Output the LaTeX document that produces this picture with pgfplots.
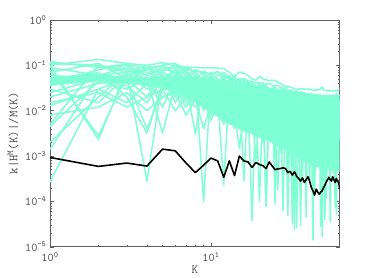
\documentclass[border=0pt]{standalone}
\usepackage{pgfplots}
\pgfplotsset{compat=1.18}
\usetikzlibrary{calc}
\definecolor{aqua}{HTML}{7FFFD4}
\definecolor{axgray}{HTML}{606060}
\begin{document}
\begin{tikzpicture}
\begin{axis}[
 scale only axis, width=289.7bp, height=226.7bp,
 xmode=log, ymode=log, xmin=1, xmax=63, ymin=1e-5, ymax=1,
 xtick={1,10}, xticklabels={10\textsuperscript{0},10\textsuperscript{1}},
 ytick={1e-5,1e-4,1e-3,1e-2,1e-1,1},
 yticklabels={10\textsuperscript{-5},10\textsuperscript{-4},10\textsuperscript{-3},10\textsuperscript{-2},10\textsuperscript{-1},10\textsuperscript{0}},
 tick align=inside, major tick length=4bp, minor tick length=2bp,
 axis line style={axgray, line width=0.8pt}, every tick/.style={axgray},
 tick label style={font=\ttfamily\fontsize{12}{13}\selectfont, text=black!72},
 xticklabel style={yshift=-2bp},
 label style={font=\ttfamily\fontsize{12.5}{14}\selectfont, text=black!72},
 xlabel={K}, ylabel={k|H\textsuperscript{M}(K)|/M(K)},
 xlabel style={yshift=3bp},
 aq/.style={aqua, line width=1.5pt, line join=round},
]
% dense core of the aquamarine bundle
\addplot[fill=aqua, draw=none] coordinates {
(1,0.055)(2,0.065)(3,0.055)(4,0.055)(5,0.06)(6,0.06)(8,0.055)(10,0.05)(13,0.046)(16,0.04)(20,0.035)(25,0.031)(30,0.028)(40,0.024)(50,0.022)(63,0.022)
(63,0.00045)(50,0.0005)(40,0.0007)(30,0.0012)(25,0.0018)(20,0.0026)(16,0.0035)(13,0.005)(10,0.009)(8,0.015)(6,0.025)(5,0.03)(4,0.035)(3,0.04)(2,0.045)(1,0.035)};
% l1
\addplot[aq] coordinates {(1,0.10)(2,0.135)(3,0.11)(4,0.10)(5,0.115)(6,0.10)(7,0.092)(8,0.09)(9,0.088)(10,0.088)(11,0.087)(12,0.085)(13,0.07)(14,0.056)(15,0.071)(16,0.066)(17,0.06)(18,0.05)(19,0.047)(20,0.058)(21,0.05)(22,0.048)(23,0.046)(24,0.047)(25,0.046)(26,0.043)(27,0.040)(28,0.036)(29,0.035)(30,0.034)(31,0.033)(32,0.032)(33,0.030)(34,0.029)(35,0.030)(36,0.031)(37,0.030)(38,0.030)(39,0.029)(40,0.030)(41,0.030)(42,0.029)(43,0.028)(44,0.029)(45,0.028)(46,0.029)(47,0.029)(48,0.030)(49,0.034)(50,0.029)(51,0.028)(52,0.028)(53,0.027)(54,0.028)(55,0.027)(56,0.028)(57,0.027)(58,0.028)(59,0.028)(60,0.027)(61,0.028)(62,0.029)(63,0.030)};
% l2
\addplot[aq] coordinates {(1,0.12)(2,0.09)(3,0.105)(4,0.085)(5,0.10)(6,0.11)(7,0.08)(8,0.075)(9,0.07)(10,0.065)(11,0.07)(12,0.06)(13,0.055)(14,0.05)(15,0.048)(16,0.052)(17,0.045)(18,0.043)(19,0.04)(20,0.042)(21,0.041)(22,0.038)(23,0.04)(24,0.037)(25,0.035)(26,0.036)(27,0.033)(28,0.031)(29,0.032)(30,0.029)(31,0.028)(32,0.027)(33,0.026)(34,0.027)(35,0.025)(36,0.026)(37,0.024)(38,0.025)(39,0.023)(40,0.024)(41,0.023)(42,0.024)(43,0.022)(44,0.023)(45,0.022)(46,0.023)(47,0.021)(48,0.022)(49,0.021)(50,0.022)(51,0.021)(52,0.022)(53,0.020)(54,0.021)(55,0.022)(56,0.021)(57,0.020)(58,0.021)(59,0.022)(60,0.024)(61,0.021)(62,0.022)(63,0.023)};
% l3
\addplot[aq] coordinates {(1,2.7e-4)(2,0.03)(3,0.05)(4,0.02)(5,0.06)(6,0.04)(7,0.03)(8,0.05)(9,0.02)(10,0.04)(11,0.03)(12,0.012)(13,0.03)(14,0.02)(15,0.025)(16,0.012)(17,0.02)(18,0.008)(19,0.015)(20,0.02)(21,0.01)(22,0.018)(23,0.006)(24,0.015)(25,0.01)(26,0.02)(27,0.008)(28,0.012)(29,0.005)(30,0.015)(31,0.01)(32,0.004)(33,0.012)(34,0.008)(35,0.015)(36,0.006)(37,0.01)(38,0.003)(39,0.009)(40,0.012)(41,0.005)(42,0.01)(43,1.4e-5)(44,0.008)(45,0.011)(46,0.004)(47,0.009)(48,0.006)(49,0.012)(50,0.003)(51,0.008)(52,0.01)(53,0.005)(54,0.009)(55,0.004)(56,0.011)(57,0.007)(58,0.003)(59,0.01)(60,0.006)(61,0.009)(62,0.004)(63,0.008)};
% l4
\addplot[aq] coordinates {(1,1.4e-3)(2,0.06)(3,0.07)(4,2.8e-4)(5,0.05)(6,0.03)(7,0.06)(8,0.02)(9,0.045)(10,0.03)(11,0.015)(12,0.04)(13,0.02)(14,0.03)(15,0.01)(16,0.025)(17,0.015)(18,3.7e-5)(19,0.02)(20,0.012)(21,0.025)(22,0.009)(23,0.02)(24,0.005)(25,0.015)(26,0.022)(27,0.007)(28,0.018)(29,0.012)(30,0.02)(31,0.006)(32,0.014)(33,0.009)(34,0.018)(35,0.005)(36,0.012)(37,0.016)(38,0.007)(39,0.013)(40,0.004)(41,0.011)(42,0.015)(43,0.006)(44,0.012)(45,0.003)(46,0.01)(47,0.014)(48,0.005)(49,0.011)(50,0.008)(51,0.013)(52,0.004)(53,0.01)(54,0.014)(55,0.006)(56,0.009)(57,0.012)(58,0.002)(59,0.008)(60,0.011)(61,0.005)(62,0.012)(63,0.007)};
% l5
\addplot[aq] coordinates {(1,5e-3)(2,0.1)(3,0.08)(4,0.06)(5,0.09)(6,0.07)(7,0.04)(8,0.06)(9,1e-4)(10,0.05)(11,0.04)(12,0.06)(13,0.03)(14,0.045)(15,0.035)(16,0.02)(17,0.04)(18,0.025)(19,0.03)(20,0.015)(21,0.03)(22,0.02)(23,0.028)(24,0.012)(25,0.025)(26,0.018)(27,0.026)(28,0.01)(29,0.022)(30,0.016)(31,0.024)(32,0.012)(33,0.02)(34,0.008)(35,0.019)(36,0.015)(37,0.021)(38,0.01)(39,0.018)(40,0.013)(41,0.02)(42,0.007)(43,0.017)(44,0.012)(45,0.019)(46,0.009)(47,0.016)(48,0.013)(49,0.005)(50,0.016)(51,0.011)(52,0.018)(53,0.008)(54,0.015)(55,0.012)(56,0.017)(57,0.006)(58,0.014)(59,0.011)(60,0.016)(61,0.009)(62,0.013)(63,0.015)};
% l6
\addplot[aq] coordinates {(1,0.1)(2,2.3e-3)(3,0.08)(4,0.05)(5,0.07)(6,0.05)(7,0.08)(8,0.04)(9,0.06)(10,0.03)(11,0.05)(12,0.035)(13,0.045)(14,0.015)(15,0.04)(16,0.03)(17,0.01)(18,0.03)(19,0.02)(20,0.035)(21,0.012)(22,0.025)(23,0.03)(24,0.01)(25,0.02)(26,0.028)(27,0.015)(28,0.006)(29,0.02)(30,4.8e-5)(31,0.018)(32,0.022)(33,0.01)(34,0.02)(35,0.013)(36,0.004)(37,0.017)(38,0.02)(39,0.011)(40,0.018)(41,0.008)(42,0.016)(43,0.019)(44,0.005)(45,0.015)(46,0.018)(47,0.01)(48,0.016)(49,0.007)(50,0.015)(51,0.019)(52,0.006)(53,0.014)(54,0.017)(55,0.009)(56,0.015)(57,0.002)(58,0.013)(59,0.017)(60,0.01)(61,0.015)(62,0.006)(63,0.014)};
% l7
\addplot[aq] coordinates {(1,0.08)(2,2.8e-3)(3,0.06)(4,0.09)(5,0.04)(6,0.08)(7,0.05)(8,0.07)(9,0.035)(10,0.06)(11,0.025)(12,0.05)(13,0.04)(14,0.055)(15,0.02)(16,0.045)(17,0.03)(18,0.04)(19,0.015)(20,0.03)(21,0.038)(22,0.02)(23,0.01)(24,0.03)(25,0.02)(26,0.012)(27,0.025)(28,0.03)(29,0.009)(30,0.022)(31,0.015)(32,0.025)(33,2.4e-5)(34,0.018)(35,0.022)(36,0.012)(37,0.02)(38,0.008)(39,0.018)(40,0.021)(41,0.012)(42,0.005)(43,0.017)(44,0.02)(45,0.01)(46,0.016)(47,0.004)(48,0.018)(49,0.014)(50,0.009)(51,0.017)(52,0.012)(53,0.018)(54,0.004)(55,0.015)(56,0.011)(57,0.017)(58,0.008)(59,0.014)(60,0.018)(61,0.003)(62,0.015)(63,0.012)};
% l8
\addplot[aq] coordinates {(1,0.05)(2,0.07)(3,0.02)(4,3.2e-3)(5,0.04)(6,0.06)(7,0.03)(8,0.05)(9,0.012)(10,0.045)(11,0.03)(12,0.04)(13,0.018)(14,0.035)(15,0.025)(16,0.008)(17,0.03)(18,0.02)(19,0.028)(20,0.006)(21,0.022)(22,8e-5)(23,0.02)(24,0.025)(25,0.013)(26,0.02)(27,0.005)(28,0.018)(29,0.023)(30,0.01)(31,0.016)(32,0.02)(33,0.007)(34,0.015)(35,0.019)(36,0.011)(37,0.003)(38,0.016)(39,0.02)(40,0.009)(41,0.014)(42,0.018)(43,0.01)(44,0.015)(45,0.006)(46,0.017)(47,0.012)(48,0.015)(49,0.004)(50,0.013)(51,0.016)(52,0.011)(53,0.015)(54,0.007)(55,0.014)(56,0.003)(57,0.012)(58,0.016)(59,0.009)(60,0.013)(61,0.016)(62,0.008)(63,0.012)};
% l9
\addplot[aq] coordinates {(1,0.02)(2,0.04)(3,0.05)(4,4e-3)(5,0.03)(6,0.045)(7,0.02)(8,0.035)(9,0.025)(10,0.01)(11,0.03)(12,0.02)(13,0.035)(14,0.01)(15,0.025)(16,0.018)(17,0.028)(18,0.012)(19,0.006)(20,0.022)(21,0.015)(22,0.025)(23,0.01)(24,0.02)(25,0.004)(26,0.015)(27,0.02)(28,0.009)(29,0.018)(30,0.012)(31,0.003)(32,0.016)(33,0.019)(34,0.01)(35,0.014)(36,0.018)(37,0.006)(38,0.015)(39,0.012)(40,0.017)(41,0.004)(42,0.013)(43,0.016)(44,0.009)(45,0.014)(46,0.011)(47,0.016)(48,0.006)(49,1.7e-5)(50,0.011)(51,0.014)(52,0.008)(53,0.013)(54,0.016)(55,0.005)(56,0.012)(57,0.015)(58,0.01)(59,0.004)(60,0.012)(61,0.014)(62,0.009)(63,0.011)};
% l10
\addplot[aq] coordinates {(1,0.013)(2,0.03)(3,0.015)(4,0.04)(5,0.02)(6,0.03)(7,0.012)(8,0.025)(9,0.03)(10,0.008)(11,0.02)(12,0.028)(13,0.012)(14,0.022)(15,0.005)(16,0.018)(17,0.025)(18,0.01)(19,0.02)(20,0.016)(21,0.004)(22,0.015)(23,0.02)(24,0.008)(25,0.017)(26,0.012)(27,0.019)(28,0.003)(29,0.014)(30,0.018)(31,0.008)(32,0.013)(33,0.017)(34,0.006)(35,0.012)(36,2.9e-5)(37,0.014)(38,0.01)(39,0.004)(40,0.012)(41,0.016)(42,0.007)(43,0.011)(44,0.015)(45,0.008)(46,0.002)(47,0.012)(48,0.01)(49,0.014)(50,0.006)(51,0.01)(52,0.013)(53,0.003)(54,0.011)(55,0.014)(56,0.007)(57,0.01)(58,0.013)(59,0.005)(60,0.009)(61,0.012)(62,0.007)(63,0.01)};
% l11
\addplot[aq] coordinates {(1,0.03)(2,0.015)(3,0.06)(4,0.05)(5,3.2e-3)(6,0.04)(7,0.06)(8,0.03)(9,0.05)(10,0.02)(11,0.04)(12,0.015)(13,0.03)(14,0.04)(15,0.018)(16,0.035)(17,0.006)(18,0.025)(19,0.033)(20,0.012)(21,0.028)(22,0.018)(23,0.03)(24,0.007)(25,0.022)(26,0.026)(27,0.011)(28,0.021)(29,0.025)(30,0.006)(31,0.02)(32,0.014)(33,0.022)(34,0.004)(35,0.017)(36,0.021)(37,0.009)(38,0.019)(39,0.015)(40,0.02)(41,0.006)(42,0.017)(43,0.012)(44,0.019)(45,0.008)(46,0.016)(47,0.018)(48,0.003)(49,0.015)(50,0.018)(51,0.009)(52,0.016)(53,0.012)(54,0.017)(55,3.5e-5)(56,0.014)(57,0.017)(58,0.01)(59,0.015)(60,0.005)(61,0.014)(62,0.017)(63,0.01)};
% l12
\addplot[aq] coordinates {(1,0.06)(2,0.05)(3,0.04)(4,0.09)(5,0.06)(6,0.02)(7,0.05)(8,0.07)(9,0.04)(10,0.055)(11,0.02)(12,2.3e-4)(13,0.04)(14,0.03)(15,0.045)(16,0.02)(17,0.035)(18,0.028)(19,0.01)(20,0.03)(21,0.02)(22,0.032)(23,0.015)(24,0.027)(25,8.7e-5)(26,0.024)(27,0.018)(28,0.026)(29,0.012)(30,0.02)(31,0.024)(32,0.009)(33,0.019)(34,0.023)(35,0.012)(36,0.018)(37,0.005)(38,0.02)(39,0.016)(40,0.01)(41,0.019)(42,0.013)(43,0.004)(44,0.017)(45,0.02)(46,0.012)(47,0.016)(48,0.008)(49,0.018)(50,0.013)(51,0.005)(52,0.015)(53,0.019)(54,0.01)(55,0.016)(56,0.008)(57,0.013)(58,0.017)(59,0.006)(60,0.014)(61,0.011)(62,0.016)(63,0.009)};
% l13
\addplot[aq] coordinates {(1,0.04)(2,0.08)(3,0.1)(4,0.06)(5,0.08)(6,0.1)(7,0.07)(8,0.05)(9,0.075)(10,0.06)(11,0.04)(12,0.055)(13,0.03)(14,0.045)(15,0.035)(16,2.8e-4)(17,0.03)(18,0.04)(19,0.025)(20,0.033)(21,0.02)(22,0.03)(23,0.024)(24,0.015)(25,0.028)(26,0.02)(27,0.025)(28,6.3e-5)(29,0.022)(30,0.025)(31,0.014)(32,0.021)(33,0.016)(34,0.022)(35,0.008)(36,0.02)(37,0.023)(38,0.013)(39,0.019)(40,0.006)(41,0.018)(42,0.021)(43,0.014)(44,0.018)(45,0.011)(46,0.02)(47,0.007)(48,0.017)(49,0.02)(50,0.012)(51,0.018)(52,0.009)(53,0.016)(54,0.019)(55,0.011)(56,0.017)(57,0.014)(58,0.004)(59,0.015)(60,5e-5)(61,0.016)(62,0.012)(63,0.017)};
% l14
\addplot[aq] coordinates {(1,0.09)(2,0.06)(3,0.09)(4,0.07)(5,0.05)(6,0.08)(7,0.04)(8,3e-3)(9,0.05)(10,0.07)(11,0.05)(12,0.03)(13,0.05)(14,0.04)(15,0.05)(16,0.03)(17,0.045)(18,0.035)(19,0.02)(20,0.04)(21,0.03)(22,0.036)(23,0.022)(24,0.03)(25,0.035)(26,0.014)(27,0.03)(28,0.024)(29,0.028)(30,0.018)(31,0.026)(32,0.02)(33,0.025)(34,0.012)(35,0.024)(36,0.02)(37,0.025)(38,0.016)(39,0.022)(40,0.019)(41,0.009)(42,0.021)(43,0.018)(44,0.023)(45,0.015)(46,0.02)(47,0.016)(48,2.8e-5)(49,0.02)(50,0.017)(51,0.021)(52,0.014)(53,0.019)(54,0.012)(55,0.02)(56,0.016)(57,0.02)(58,0.011)(59,0.018)(60,0.02)(61,0.013)(62,0.018)(63,0.016)};
% l15
\addplot[aq] coordinates {(1,0.07)(2,0.11)(3,0.05)(4,0.08)(5,0.1)(6,0.06)(7,0.09)(8,0.07)(9,0.03)(10,0.06)(11,0.075)(12,0.045)(13,0.06)(14,0.035)(15,0.05)(16,0.04)(17,0.02)(18,0.04)(19,0.035)(20,0.025)(21,0.038)(22,0.03)(23,0.012)(24,0.032)(25,0.026)(26,0.03)(27,0.02)(28,0.028)(29,0.015)(30,0.027)(31,0.022)(32,0.026)(33,0.017)(34,0.024)(35,0.02)(36,0.024)(37,0.01)(38,0.022)(39,4.5e-5)(40,0.021)(41,0.017)(42,0.022)(43,0.012)(44,0.02)(45,0.017)(46,0.021)(47,0.009)(48,0.019)(49,0.016)(50,0.02)(51,0.013)(52,0.019)(53,0.008)(54,0.018)(55,0.015)(56,0.019)(57,0.011)(58,0.018)(59,7.5e-5)(60,0.017)(61,0.019)(62,0.012)(63,0.017)};
% l16
\addplot[aq] coordinates {(1,0.025)(2,0.05)(3,0.035)(4,0.015)(5,0.05)(6,0.035)(7,0.015)(8,0.04)(9,0.02)(10,0.035)(11,0.01)(12,0.03)(13,0.02)(14,0.006)(15,0.025)(16,0.015)(17,0.022)(18,0.009)(19,0.02)(20,9.8e-5)(21,0.018)(22,0.012)(23,0.02)(24,0.004)(25,0.016)(26,0.01)(27,0.018)(28,0.007)(29,0.015)(30,0.011)(31,0.017)(32,0.005)(33,0.014)(34,0.012)(35,0.002)(36,0.013)(37,0.016)(38,0.008)(39,0.014)(40,0.01)(41,0.015)(42,0.003)(43,0.012)(44,0.014)(45,0.007)(46,0.012)(47,0.015)(48,0.009)(49,0.013)(50,0.004)(51,4e-5)(52,0.012)(53,0.014)(54,0.006)(55,0.011)(56,0.013)(57,0.008)(58,0.012)(59,0.014)(60,0.004)(61,0.011)(62,0.013)(63,0.006)};
% l17
\addplot[aq] coordinates {(1,4.5e-3)(2,0.045)(3,0.03)(4,0.05)(5,0.012)(6,0.05)(7,0.025)(8,0.045)(9,0.01)(10,0.04)(11,0.025)(12,0.035)(13,0.006)(14,0.03)(15,0.02)(16,0.028)(17,0.012)(18,0.024)(19,0.004)(20,0.02)(21,0.025)(22,7.6e-5)(23,0.018)(24,0.022)(25,0.01)(26,1.8e-4)(27,0.015)(28,0.02)(29,0.006)(30,0.016)(31,0.012)(32,3.2e-5)(33,0.014)(34,0.01)(35,0.016)(36,0.005)(37,0.013)(38,0.011)(39,0.015)(40,0.003)(41,0.012)(42,0.009)(43,0.014)(44,0.006)(45,0.012)(46,0.014)(47,0.005)(48,0.011)(49,0.009)(50,0.013)(51,0.002)(52,0.01)(53,0.012)(54,0.007)(55,0.011)(56,0.004)(57,0.01)(58,0.012)(59,0.007)(60,0.011)(61,0.003)(62,0.009)(63,0.011)};
% l18
\addplot[aq] coordinates {(1,2e-3)(2,0.02)(3,0.07)(4,0.03)(5,0.06)(6,0.015)(7,0.04)(8,0.03)(9,0.05)(10,0.015)(11,0.035)(12,0.025)(13,0.01)(14,0.03)(15,0.012)(16,0.025)(17,0.018)(18,0.005)(19,0.022)(20,0.015)(21,0.02)(22,0.008)(23,0.018)(24,0.014)(25,0.003)(26,0.016)(27,0.012)(28,0.017)(29,0.007)(30,0.014)(31,0.002)(32,0.012)(33,0.015)(34,2.6e-5)(35,0.013)(36,0.009)(37,0.014)(38,0.006)(39,0.012)(40,0.008)(41,0.013)(42,0.002)(43,0.011)(44,1.4e-4)(45,0.012)(46,0.008)(47,0.011)(48,0.004)(49,0.01)(50,0.012)(51,0.006)(52,0.009)(53,0.011)(54,0.003)(55,0.009)(56,0.011)(57,0.005)(58,0.009)(59,0.012)(60,0.007)(61,0.01)(62,2e-3)(63,0.009)};
% l19
\addplot[aq] coordinates {(1,0.11)(2,0.1)(3,0.07)(4,0.1)(5,0.075)(6,0.09)(7,0.06)(8,0.08)(9,0.065)(10,0.045)(11,0.06)(12,0.07)(13,0.05)(14,0.06)(15,0.03)(16,0.05)(17,0.04)(18,0.045)(19,0.03)(20,0.04)(21,0.025)(22,0.035)(23,0.03)(24,0.018)(25,0.03)(26,0.025)(27,0.01)(28,0.026)(29,0.02)(30,0.026)(31,0.005)(32,0.022)(33,0.018)(34,0.024)(35,0.01)(36,0.02)(37,3e-4)(38,0.019)(39,0.017)(40,0.021)(41,0.011)(42,0.019)(43,0.016)(44,0.02)(45,0.003)(46,0.018)(47,0.02)(48,0.012)(49,0.017)(50,0.02)(51,0.009)(52,1.2e-4)(53,0.018)(54,0.015)(55,0.019)(56,0.01)(57,0.017)(58,0.019)(59,0.012)(60,0.016)(61,0.018)(62,0.006)(63,0.015)};
% l20
\addplot[aq] coordinates {(1,0.015)(2,0.025)(3,0.012)(4,0.02)(5,0.03)(6,0.01)(7,0.02)(8,0.012)(9,0.02)(10,0.006)(11,0.015)(12,0.01)(13,0.015)(14,0.004)(15,0.012)(16,0.009)(17,0.013)(18,0.006)(19,0.011)(20,0.008)(21,0.002)(22,0.01)(23,0.007)(24,0.011)(25,0.005)(26,0.009)(27,0.0012)(28,0.008)(29,0.01)(30,0.004)(31,0.008)(32,0.0006)(33,0.007)(34,0.009)(35,0.005)(36,0.0025)(37,0.008)(38,0.006)(39,0.009)(40,0.0015)(41,0.007)(42,0.005)(43,0.008)(44,0.002)(45,0.007)(46,0.0008)(47,0.006)(48,0.008)(49,0.003)(50,0.007)(51,0.005)(52,0.0012)(53,0.006)(54,0.008)(55,0.002)(56,0.006)(57,0.0007)(58,0.005)(59,0.007)(60,0.0015)(61,0.006)(62,0.004)(63,0.007)};
% l21
\addplot[aq] coordinates {(1,0.008)(2,0.012)(3,0.025)(4,0.01)(5,0.02)(6,0.025)(7,0.008)(8,0.018)(9,0.004)(10,0.015)(11,0.01)(12,0.005)(13,0.012)(14,0.008)(15,0.0015)(16,0.01)(17,0.007)(18,0.011)(19,0.0008)(20,0.009)(21,0.007)(22,0.003)(23,0.009)(24,0.006)(25,0.0009)(26,0.007)(27,0.009)(28,0.0025)(29,0.007)(30,0.0004)(31,0.006)(32,0.008)(33,0.0018)(34,0.006)(35,0.0007)(36,0.007)(37,0.005)(38,0.0012)(39,0.006)(40,0.0045)(41,0.0003)(42,0.006)(43,0.0015)(44,0.005)(45,0.0006)(46,0.005)(47,0.0035)(48,0.0009)(49,0.006)(50,0.0025)(51,0.005)(52,0.0004)(53,0.005)(54,0.0018)(55,0.004)(56,0.0009)(57,0.005)(58,0.0004)(59,0.004)(60,0.002)(61,0.0006)(62,0.004)(63,0.0025)};
% black
\addplot[black, line width=1.6pt, line join=round] coordinates {(1,9.3e-4)(2,5.9e-4)(3,7.0e-4)(4,6.0e-4)(5,1.42e-3)(6,1.3e-3)(7,7.0e-4)(8,4.3e-4)(9,6.3e-4)(10,9.0e-4)(11,7.8e-4)(12,3.4e-4)(13,7.8e-4)(14,3.7e-4)(15,1.0e-3)(16,7.8e-4)(17,7.4e-4)(18,5.6e-4)(19,7.2e-4)(20,6.5e-4)(21,6.1e-4)(22,5.3e-4)(23,7.4e-4)(24,6.0e-4)(25,5.0e-4)(26,5.2e-4)(27,5.3e-4)(28,5.5e-4)(29,5.3e-4)(30,4.3e-4)(31,4.6e-4)(32,3.8e-4)(33,4.5e-4)(34,3.6e-4)(35,3.2e-4)(36,2.8e-4)(37,3.3e-4)(38,2.6e-4)(39,3.0e-4)(40,3.5e-4)(41,2.8e-4)(42,2.0e-4)(43,1.7e-4)(44,1.37e-4)(45,1.86e-4)(46,1.6e-4)(47,1.44e-4)(48,1.6e-4)(49,1.7e-4)(50,2.0e-4)(51,2.3e-4)(52,2.7e-4)(53,3.0e-4)(54,3.4e-4)(55,3.0e-4)(56,2.8e-4)(57,3.5e-4)(58,3.0e-4)(59,2.6e-4)(60,3.2e-4)(61,2.8e-4)(62,2.6e-4)(63,1.9e-4)};
\end{axis}
\path ($(current axis.south west)+(-50bp,-31.3bp)$) rectangle ($(current axis.north east)+(34.3bp,20bp)$);
\end{tikzpicture}
\end{document}
